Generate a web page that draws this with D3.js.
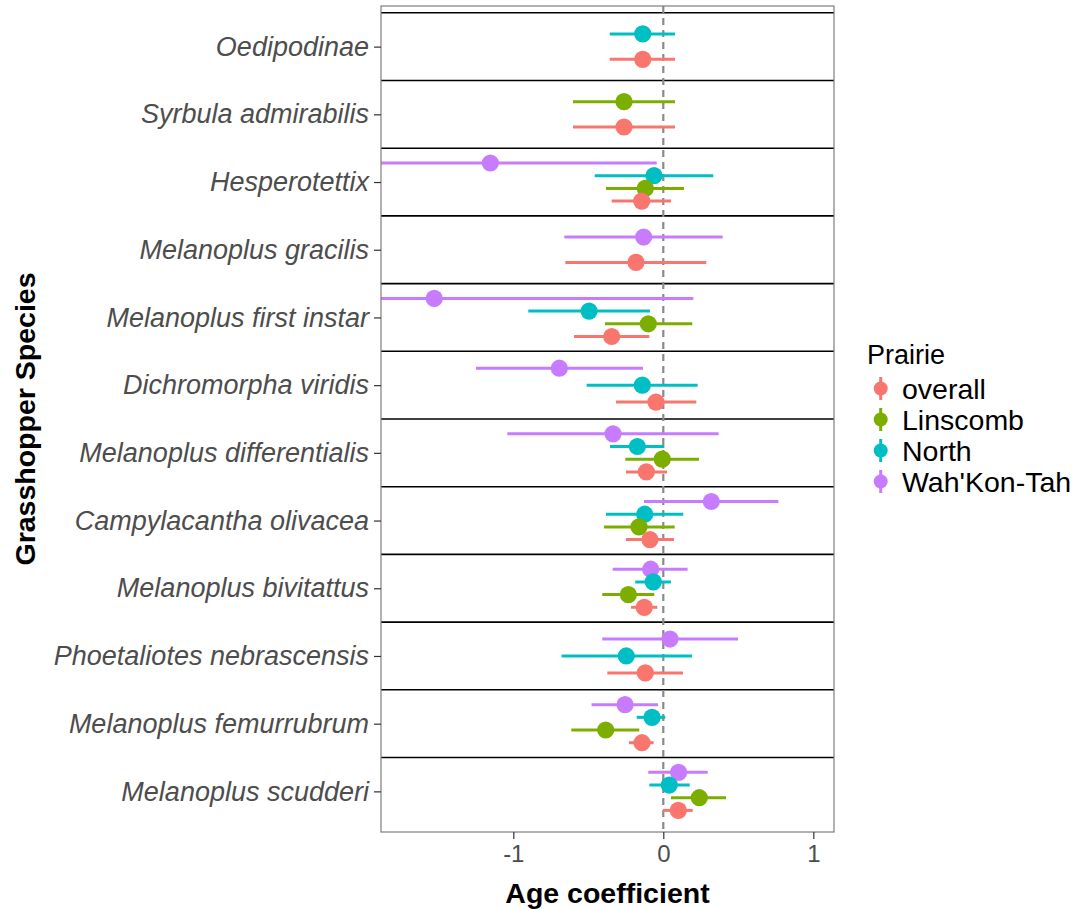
<!DOCTYPE html>
<html>
<head>
<meta charset="utf-8">
<script src="https://cdn.jsdelivr.net/npm/d3@7"></script>
<style>
  html, body { margin: 0; padding: 0; background: #fff; }
  svg { display: block; font-family: "Liberation Sans", Arial, sans-serif; }
</style>
</head>
<body>
<svg id="chart" width="1084" height="909"></svg>
<script>
// Species, listed top to bottom
const species = [
  "Oedipodinae",
  "Syrbula admirabilis",
  "Hesperotettix",
  "Melanoplus gracilis",
  "Melanoplus first instar",
  "Dichromorpha viridis",
  "Melanoplus differentialis",
  "Campylacantha olivacea",
  "Melanoplus bivitattus",
  "Phoetaliotes nebrascensis",
  "Melanoplus femurrubrum",
  "Melanoplus scudderi"
];

const prairies = ["overall", "Linscomb", "North", "Wah'Kon-Tah"];
const prairieColors = ["#F8766D", "#7CAE00", "#00BFC4", "#C77CFF"];

// Age coefficient estimates and interval bounds per prairie (null = not fitted)
const overallEst = [-0.137, -0.262, -0.144, -0.182, -0.344, -0.049, -0.113, -0.089, -0.127, -0.120, -0.142, 0.100];
const overallLo  = [-0.357, -0.602, -0.344, -0.653, -0.595, -0.315, -0.249, -0.249, -0.215, -0.373, -0.229, -0.002];
const overallHi  = [0.078, 0.078, 0.051, 0.287, -0.093, 0.220, 0.025, 0.071, -0.040, 0.131, -0.064, 0.196];

const linscombEst = [null, -0.262, -0.120, null, -0.100, null, -0.007, -0.162, -0.233, null, -0.384, 0.240];
const linscombLo  = [null, -0.602, -0.382, null, -0.389, null, -0.253, -0.395, -0.407, null, -0.613, 0.051];
const linscombHi  = [null, 0.078, 0.138, null, 0.193, null, 0.238, 0.076, -0.060, null, -0.160, 0.418];

const northEst = [-0.137, null, -0.062, null, -0.495, -0.140, -0.173, -0.124, -0.067, -0.247, -0.075, 0.040];
const northLo  = [-0.357, null, -0.457, null, -0.900, -0.511, -0.355, -0.382, -0.187, -0.678, -0.177, -0.093];
const northHi  = [0.078, null, 0.333, null, -0.089, 0.229, 0.007, 0.133, 0.051, 0.191, 0.013, 0.176];

const wahEst = [null, null, -1.153, -0.131, -1.527, -0.693, -0.335, 0.320, -0.084, 0.045, -0.255, 0.102];
const wahLo  = [null, null, -2.262, -0.660, -3.254, -1.249, -1.040, -0.129, -0.338, -0.407, -0.478, -0.100];
const wahHi  = [null, null, -0.044, 0.396, 0.200, -0.135, 0.369, 0.767, 0.162, 0.498, -0.035, 0.296];

const xTicks = [-1, 0, 1];

// Build tidy rows from the arrays above
const seriesTable = [
  [overallEst, overallLo, overallHi],
  [linscombEst, linscombLo, linscombHi],
  [northEst, northLo, northHi],
  [wahEst, wahLo, wahHi]
];

const n = species.length;
const rows = [];
species.forEach((sp, si) => {
  const present = prairies.map((p, pi) => pi).filter(pi => seriesTable[pi][0][si] !== null);
  present.forEach((pi, k) => {
    rows.push({
      species: sp,
      pos: n - si,              // discrete position, top species highest
      prairie: prairies[pi],
      pi: pi,
      k: k,
      nGroups: present.length,
      est: seriesTable[pi][0][si],
      lo: seriesTable[pi][1][si],
      hi: seriesTable[pi][2][si]
    });
  });
});

// Layout
const panel = { left: 381, right: 834, top: 6, bottom: 832 };
const dodgeWidth = 0.75;

const x = d3.scaleLinear()
  .domain([-1.882, 1.138])
  .range([panel.left, panel.right]);

const y = d3.scaleLinear()
  .domain([0.4, n + 0.6])
  .range([panel.bottom, panel.top]);

const colorScale = d3.scaleOrdinal().domain(prairies).range(prairieColors);

const svg = d3.select("#chart");

svg.append("defs").append("clipPath").attr("id", "panel-clip")
  .append("rect")
  .attr("x", panel.left).attr("y", panel.top)
  .attr("width", panel.right - panel.left)
  .attr("height", panel.bottom - panel.top);

// Species separator lines
const plot = svg.append("g").attr("clip-path", "url(#panel-clip)");
plot.selectAll("line.sep")
  .data(d3.range(1, n + 1))
  .join("line")
  .attr("class", "sep")
  .attr("x1", panel.left).attr("x2", panel.right)
  .attr("y1", d => y(d + 0.5)).attr("y2", d => y(d + 0.5))
  .attr("stroke", "#000").attr("stroke-width", 1.6);

// Reference line at zero
plot.append("line")
  .attr("x1", x(0)).attr("x2", x(0))
  .attr("y1", panel.top).attr("y2", panel.bottom)
  .attr("stroke", "#8a8a8a").attr("stroke-width", 2.2)
  .attr("stroke-dasharray", "7,5");

const yPos = d => y(d.pos + (d.k - (d.nGroups - 1) / 2) * dodgeWidth / d.nGroups);

// Draw in reverse prairie order so "overall" sits on top
const drawOrder = rows.slice().sort((a, b) => b.pi - a.pi);

const marks = plot.selectAll("g.mark")
  .data(drawOrder)
  .join("g")
  .attr("class", "mark");

marks.append("line")
  .attr("x1", d => x(d.lo)).attr("x2", d => x(d.hi))
  .attr("y1", yPos).attr("y2", yPos)
  .attr("stroke", d => colorScale(d.prairie))
  .attr("stroke-width", 3);

marks.append("circle")
  .attr("cx", d => x(d.est)).attr("cy", yPos)
  .attr("r", 8.6)
  .attr("fill", d => colorScale(d.prairie));

// Panel border
svg.append("rect")
  .attr("x", panel.left).attr("y", panel.top)
  .attr("width", panel.right - panel.left)
  .attr("height", panel.bottom - panel.top)
  .attr("fill", "none").attr("stroke", "#7f7f7f").attr("stroke-width", 1.2);

// X axis
const xAxis = svg.append("g")
  .attr("transform", `translate(0,${panel.bottom})`)
  .call(d3.axisBottom(x).tickValues(xTicks).tickSize(7).tickPadding(6)
    .tickFormat(d => d < 0 ? "-" + Math.abs(d) : String(d)));
xAxis.select(".domain").remove();
xAxis.selectAll(".tick line").attr("stroke", "#333").attr("stroke-width", 1.2);
xAxis.selectAll(".tick text")
  .attr("fill", "#4D4D4D")
  .style("font-size", "24px")
  .style("font-family", "Liberation Sans, Arial, sans-serif");

// Y axis
const yAxis = svg.append("g")
  .attr("transform", `translate(${panel.left},0)`)
  .call(d3.axisLeft(y).tickValues(d3.range(1, n + 1)).tickSize(7).tickPadding(5)
    .tickFormat(d => species[n - d]));
yAxis.select(".domain").remove();
yAxis.selectAll(".tick line").attr("stroke", "#333").attr("stroke-width", 1.2);
yAxis.selectAll(".tick text")
  .attr("fill", "#4D4D4D")
  .style("font-size", "27px")
  .style("font-style", "italic")
  .style("font-family", "Liberation Sans, Arial, sans-serif");

// Axis titles
svg.append("text")
  .attr("x", (panel.left + panel.right) / 2)
  .attr("y", 902.5)
  .attr("text-anchor", "middle")
  .style("font-size", "28.5px")
  .style("font-weight", "bold")
  .text("Age coefficient");

svg.append("text")
  .attr("transform", `translate(35,${(panel.top + panel.bottom) / 2}) rotate(-90)`)
  .attr("text-anchor", "middle")
  .style("font-size", "28.5px")
  .style("font-weight", "bold")
  .text("Grasshopper Species");

// Legend
const legend = svg.append("g").attr("transform", "translate(866,0)");
legend.append("text")
  .attr("x", 1).attr("y", 364)
  .style("font-size", "27px")
  .text("Prairie");

const items = legend.selectAll("g.item")
  .data(prairies)
  .join("g")
  .attr("class", "item")
  .attr("transform", (d, i) => `translate(0,${388.5 + i * 31})`);

items.append("line")
  .attr("x1", 14.7).attr("x2", 14.7)
  .attr("y1", -11.5).attr("y2", 11.5)
  .attr("stroke", d => colorScale(d))
  .attr("stroke-width", 3);

items.append("circle")
  .attr("cx", 14.7).attr("cy", 0).attr("r", 7)
  .attr("fill", d => colorScale(d));

items.append("text")
  .attr("x", 36).attr("y", 0)
  .attr("dy", "0.36em")
  .style("font-size", "28.5px")
  .text(d => d);
</script>
</body>
</html>
